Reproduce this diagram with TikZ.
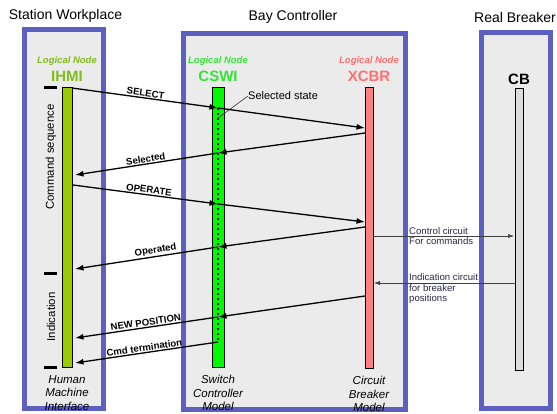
\documentclass[tikz,border=0pt]{standalone}
\usepackage{fontspec}
\setmainfont{Liberation Sans}
\usetikzlibrary{arrows.meta,positioning}
\definecolor{boxblue}{RGB}{92,96,192}
\definecolor{boxgray}{RGB}{235,235,235}
\definecolor{ihmigreen}{RGB}{153,204,0}
\definecolor{ihmitext}{RGB}{128,188,30}
\definecolor{cswigreen}{RGB}{0,250,0}
\definecolor{cswitext}{RGB}{50,230,50}
\definecolor{xcbrred}{RGB}{255,128,128}
\definecolor{xcbrtext}{RGB}{255,112,112}
\definecolor{cbgray}{RGB}{220,220,220}
\definecolor{wiretext}{RGB}{40,40,70}

\begin{document}
\begin{tikzpicture}[
      x=1pt, y=-1pt,
      frame/.style={draw=boxblue, fill=boxgray, line width=5pt, inner sep=0pt},
      title/.style={font=\fontsize{14}{16}\selectfont},
      bar/.style={draw=black, line width=0.6pt, inner sep=0pt, minimum height=280},
      lnlabel/.style={font=\fontsize{9.5}{11}\selectfont\bfseries\itshape, inner sep=0pt},
      lnname/.style={font=\fontsize{15}{17}\selectfont\bfseries, inner sep=0pt},
      model/.style={font=\fontsize{11.5}{13.5}\selectfont\itshape, align=center, inner sep=0pt},
      phase/.style={fill=black, minimum width=13, minimum height=3, inner sep=0pt},
      phaselbl/.style={font=\fontsize{11.4}{13}\selectfont, rotate=90, inner sep=0pt},
      msg/.style={-{Latex[length=8.5pt,width=6pt]}, line width=1.3pt},
      lbl/.style={font=\fontsize{9.6}{11}\selectfont\bfseries, sloped, above, inner sep=1pt},
      wire/.style={-{Latex[length=6pt,width=4pt]}, line width=0.5pt, color=black!75},
      wirelbl/.style={font=\fontsize{9.6}{10.6}\selectfont, align=left, inner sep=0pt, text=wiretext}
    ]
      \useasboundingbox (0,0) rectangle (557,414);

      % the three places
      \node[frame, minimum width=79, minimum height=379] (station) at (64,219) {};
      \node[frame, minimum width=222, minimum height=376] (bay) at (294.5,221.5) {};
      \node[frame, minimum width=69, minimum height=376] (breaker) at (516,220.5) {};

      \node[title] (stationtitle) at (65.5,16) {Station Workplace};
      \node[title] (baytitle) at (293,17) {Bay Controller};
      \node[title] (breakertitle) at (515,17) {Real Breaker};

      % lifelines
      \node[bar, fill=ihmigreen, minimum width=10] (ihmi) at (67,227) {};
      \node[bar, fill=cswigreen, minimum width=12] (cswi) at (218,227) {};
      \node[bar, fill=xcbrred, minimum width=8, minimum height=281] (xcbr) at (369,227.5) {};
      \node[bar, fill=cbgray, minimum width=8, minimum height=282] (cb) at (519,229) {};

      \node[lnname, text=ihmitext, above=5pt of ihmi] (ihminame) {IHMI};
      \node[lnlabel, text=ihmitext, above=5pt of ihminame] (ihmiln) {Logical Node};
      \node[lnname, text=cswitext, above=5pt of cswi] (cswiname) {CSWI};
      \node[lnlabel, text=cswitext, above=5pt of cswiname] (cswiln) {Logical Node};
      \node[lnname, text=xcbrtext, above=5pt of xcbr] (xcbrname) {XCBR};
      \node[lnlabel, text=xcbrtext, above=5pt of xcbrname] (xcbrln) {Logical Node};
      \node[lnname, above=3pt of cb] (cbname) {CB};

      \node[model, below=8pt of ihmi] (ihmimodel) {Human\\Machine\\Interface};
      \node[model, below=8pt of cswi] (cswimodel) {Switch\\Controller\\Model};
      \node[model, below=8pt of xcbr] (xcbrmodel) {Circuit\\Breaker\\Model};

      % phases at the HMI
      \node[phase] (cmdstart) at (50.5,88) {};
      \node[phase] (cmdend) at (50.5,273) {};
      \node[phase] (indend) at (50.5,367) {};
      \node[phaselbl] (cmdlbl) at (51,157) {Command sequence};
      \node[phaselbl] (indlbl) at (51,317) {Indication};

      % message points
      \coordinate (selA) at (72,88);
      \coordinate (selB) at (218,108);
      \coordinate (selC) at (365,128);
      \coordinate (sdA) at (365,133);
      \coordinate (sdB) at (218,153);
      \coordinate (sdC) at (75,175);
      \coordinate (opA) at (73,185);
      \coordinate (opB) at (218,204);
      \coordinate (opC) at (365,222);
      \coordinate (odA) at (365,227);
      \coordinate (odB) at (218,247);
      \coordinate (odC) at (75,269);
      \coordinate (npA) at (365,296);
      \coordinate (npB) at (218,317);
      \coordinate (npC) at (75,338);
      \coordinate (ctA) at (218,342);
      \coordinate (ctB) at (75,363);

      \draw[line width=2.2pt, dash pattern=on 2.2pt off 2.8pt] (selB) -- (ctA);

      \node[font=\fontsize{11}{13}\selectfont, anchor=west, inner sep=0pt] (selstate) at (248,96) {Selected state};
      \coordinate (selpt) at (218,118);
      \draw[line width=0.6pt, black!80] (selpt) -- (selstate.west);

      \draw[msg] (selA) -- node[lbl, pos=0.5] {SELECT} (selB);
      \draw[msg] (selB) -- (selC);
      \draw[msg] (sdA) -- (sdB);
      \draw[msg] (sdB) -- node[lbl, pos=0.5] {Selected} (sdC);
      \draw[msg] (opA) -- node[lbl, pos=0.52] {OPERATE} (opB);
      \draw[msg] (opB) -- (opC);
      \draw[msg] (odA) -- (odB);
      \draw[msg] (odB) -- node[lbl, pos=0.43] {Operated} (odC);
      \draw[msg] (npA) -- (npB);
      \draw[msg] (npB) -- node[lbl, pos=0.5] {NEW POSITION} (npC);
      \draw[msg] (ctA) -- node[lbl, pos=0.51] {Cmd termination} (ctB);

      % hard wired circuits
      \coordinate (ctlA) at (373,236);
      \coordinate (ctlB) at (514,236);
      \coordinate (indA) at (515,283);
      \coordinate (indB) at (374,283);
      \draw[wire] (ctlA) -- (ctlB);
      \draw[wire] (indA) -- (indB);
      \node[wirelbl, anchor=west] (ctllbl) at (409,236) {Control circuit\\For commands};
      \node[wirelbl, anchor=north west] (indwirelbl) at (409,273.5) {Indication circuit\\for breaker\\positions};
    \end{tikzpicture}
\end{document}
